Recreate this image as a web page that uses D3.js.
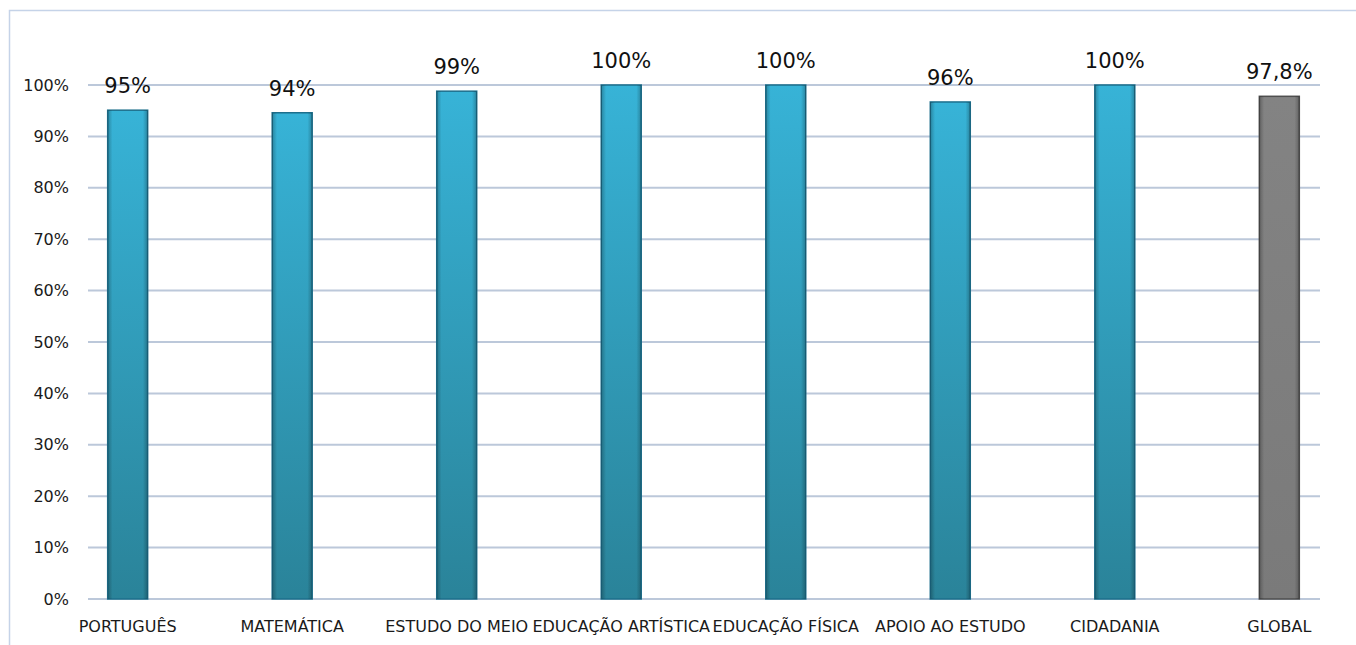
<!DOCTYPE html>
<html>
<head>
<meta charset="utf-8">
<script src="https://cdn.jsdelivr.net/npm/d3@7/dist/d3.min.js"></script>
<style>
  html, body { margin: 0; padding: 0; background: #ffffff; }
  svg { display: block; }
</style>
</head>
<body>
<svg id="chart" width="1356" height="645"></svg>
<script>
const categories = ["PORTUGUÊS", "MATEMÁTICA", "ESTUDO DO MEIO", "EDUCAÇÃO ARTÍSTICA", "EDUCAÇÃO FÍSICA", "APOIO AO ESTUDO", "CIDADANIA", "GLOBAL"];
const values = [95.1, 94.6, 98.8, 100, 100, 96.7, 100, 97.8];
const valueLabels = ["95%", "94%", "99%", "100%", "100%", "96%", "100%", "97,8%"];
const yTicks = [0, 10, 20, 30, 40, 50, 60, 70, 80, 90, 100];

const svg = d3.select("#chart");

// frame
svg.append("path")
  .attr("d", "M9.5,645 L9.5,10.5 L1356,10.5")
  .attr("fill", "none")
  .attr("stroke", "#c5d3e8")
  .attr("stroke-width", 1.5);

const y = d3.scaleLinear().domain([0, 100]).range([599, 85]);
const x = d3.scaleBand().domain(categories).range([45.5, 1361.5]).paddingInner(0.757).paddingOuter(0.378);

const defs = svg.append("defs");
function grad(id, top, bottom) {
  const g = defs.append("linearGradient").attr("id", id).attr("x1", 0).attr("y1", 0).attr("x2", 0).attr("y2", 1);
  g.append("stop").attr("offset", "0%").attr("stop-color", top);
  g.append("stop").attr("offset", "100%").attr("stop-color", bottom);
}
grad("blueGrad", "#37b3d7", "#2a8399");
grad("grayGrad", "#838383", "#7a7a7a");
const edge = defs.append("linearGradient").attr("id", "edgeGrad").attr("x1", 0).attr("y1", 0).attr("x2", 1).attr("y2", 0);
edge.append("stop").attr("offset", "0%").attr("stop-color", "#000").attr("stop-opacity", 0.25);
edge.append("stop").attr("offset", "12%").attr("stop-color", "#000").attr("stop-opacity", 0);
edge.append("stop").attr("offset", "88%").attr("stop-color", "#000").attr("stop-opacity", 0);
edge.append("stop").attr("offset", "100%").attr("stop-color", "#000").attr("stop-opacity", 0.25);

// gridlines
svg.append("g").selectAll("line").data(yTicks).join("line")
  .attr("x1", 88).attr("x2", 1320)
  .attr("y1", d => y(d)).attr("y2", d => y(d))
  .attr("stroke", "#bcc8da").attr("stroke-width", 2);

// y axis labels
const yAxis = d3.axisLeft(y).tickValues(yTicks).tickFormat(d => d + "%").tickSize(0).tickPadding(0);
const ya = svg.append("g").attr("transform", "translate(69,0)").call(yAxis);
ya.select(".domain").remove();
ya.selectAll("text")
  .attr("font-family", "DejaVu Sans")
  .attr("font-size", 16)
  .attr("fill", "#1a1a1a");

// bars
const bars = svg.append("g").selectAll("g").data(categories).join("g");
bars.append("rect")
  .attr("x", d => x(d))
  .attr("width", x.bandwidth())
  .attr("y", (d, i) => y(values[i]))
  .attr("height", (d, i) => y(0) - y(values[i]))
  .attr("fill", d => d === "GLOBAL" ? "url(#grayGrad)" : "url(#blueGrad)")
  .attr("stroke", d => d === "GLOBAL" ? "#4f4f4f" : "#1d6f8c")
  .attr("stroke-width", 1.5);
bars.append("rect")
  .attr("x", d => x(d))
  .attr("width", x.bandwidth())
  .attr("y", (d, i) => y(values[i]))
  .attr("height", (d, i) => y(0) - y(values[i]))
  .attr("fill", "url(#edgeGrad)");

// value labels
svg.append("g").selectAll("text").data(categories).join("text")
  .attr("x", d => x(d) + x.bandwidth() / 2)
  .attr("y", (d, i) => y(values[i]) - 17)
  .attr("text-anchor", "middle")
  .attr("font-family", "DejaVu Sans")
  .attr("font-size", 21)
  .attr("fill", "#111")
  .text((d, i) => valueLabels[i]);

// x axis labels
const xAxis = d3.axisBottom(x).tickSize(0).tickPadding(0);
const xa = svg.append("g").attr("transform", "translate(0,621)").call(xAxis);
xa.select(".domain").remove();
xa.selectAll("text")
  .attr("font-family", "DejaVu Sans")
  .attr("font-size", 16)
  .attr("fill", "#1a1a1a")
  .attr("dy", "0.71em");
</script>
</body>
</html>
